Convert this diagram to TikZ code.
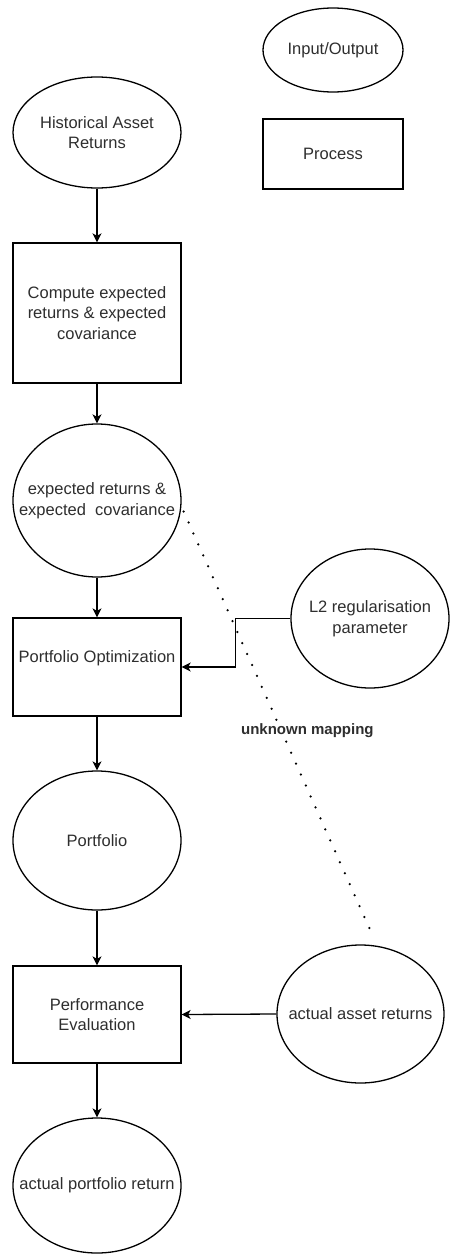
\documentclass[tikz,border=0pt]{standalone}
\usepackage{fontspec}
\setmainfont{Liberation Sans}
\usetikzlibrary{shapes.geometric,arrows.meta,calc}
\definecolor{txt}{rgb}{0.18,0.18,0.18}
\begin{document}
\begin{tikzpicture}[x=1pt,y=-1pt,
  textstyle/.style={align=center,text=txt,inner sep=0pt,
    font=\fontsize{16.5}{20.5}\selectfont},
  base/.style={draw=black,line width=1.3pt,inner sep=0pt,textstyle},
  io/.style={base,ellipse},
  proc/.style={base,rectangle},
  inside/.style={label={[textstyle]center:{#1}}},
  arr/.style={line width=1.3pt,-{Stealth[length=9pt,width=9pt,inset=2.5pt]}},
  mapping/.style={line width=2.5pt,line cap=round,dash pattern=on 0pt off 12pt},
  lbl/.style={fill=white,inner sep=1pt,text=txt,
    font=\fontsize{15}{18}\selectfont\bfseries}]
\useasboundingbox (0,0) rectangle (450,1255);

% legend
\node[io,minimum width=140pt,minimum height=84pt,inside={Input/Output}] (legio) at (333,50) {};
\node[proc,minimum width=140pt,minimum height=70pt] (legproc) at (333,154) {Process};

% main flow
\node[io,minimum width=168pt,minimum height=111pt,inside={Historical Asset\\Returns}] (hist) at (97,132.5) {};
\node[proc,minimum width=168pt,minimum height=140pt] (comp) at (97,313) {Compute expected\\returns \& expected\\covariance};
\node[io,minimum width=168pt,minimum height=153pt,inside={expected returns \&\\expected\ \ covariance}] (exp) at (97,500.5) {};
\node[proc,minimum width=168pt,minimum height=98pt] (opt) at (97,667) {Portfolio Optimization\\~};
\node[io,minimum width=168pt,minimum height=139pt,inside={Portfolio}] (port) at (97,840.5) {};
\node[proc,minimum width=168pt,minimum height=97pt] (perf) at (97,1014.5) {Performance\\Evaluation};
\node[io,minimum width=168pt,minimum height=135pt,inside={actual portfolio return}] (ret) at (97,1185.5) {};

% side inputs
\node[io,minimum width=158pt,minimum height=139pt,inside={L2 regularisation\\parameter}] (l2) at (370,618.5) {};
\node[io,minimum width=167pt,minimum height=138pt,inside={actual asset returns}] (act) at (360.5,1014) {};

% connectors
\draw[arr] (hist) -- (comp);
\draw[arr] (comp) -- (exp);
\draw[arr] (exp) -- (opt);
\draw[arr] (opt) -- (port);
\draw[arr] (port) -- (perf);
\draw[arr] (perf) -- (ret);
\draw[arr] (l2.west) -- ++(-55,0) |- (opt.east);
\draw[arr] (act.west) -- (perf.east);

% unknown mapping between expected and actual returns
\draw[mapping] ($(exp.east)+(2,11)$) -- ($(act.north)+(12.5,-8)$)
  node[lbl,pos=0.516,xshift=26pt] (maplabel) {unknown mapping};
\end{tikzpicture}
\end{document}
